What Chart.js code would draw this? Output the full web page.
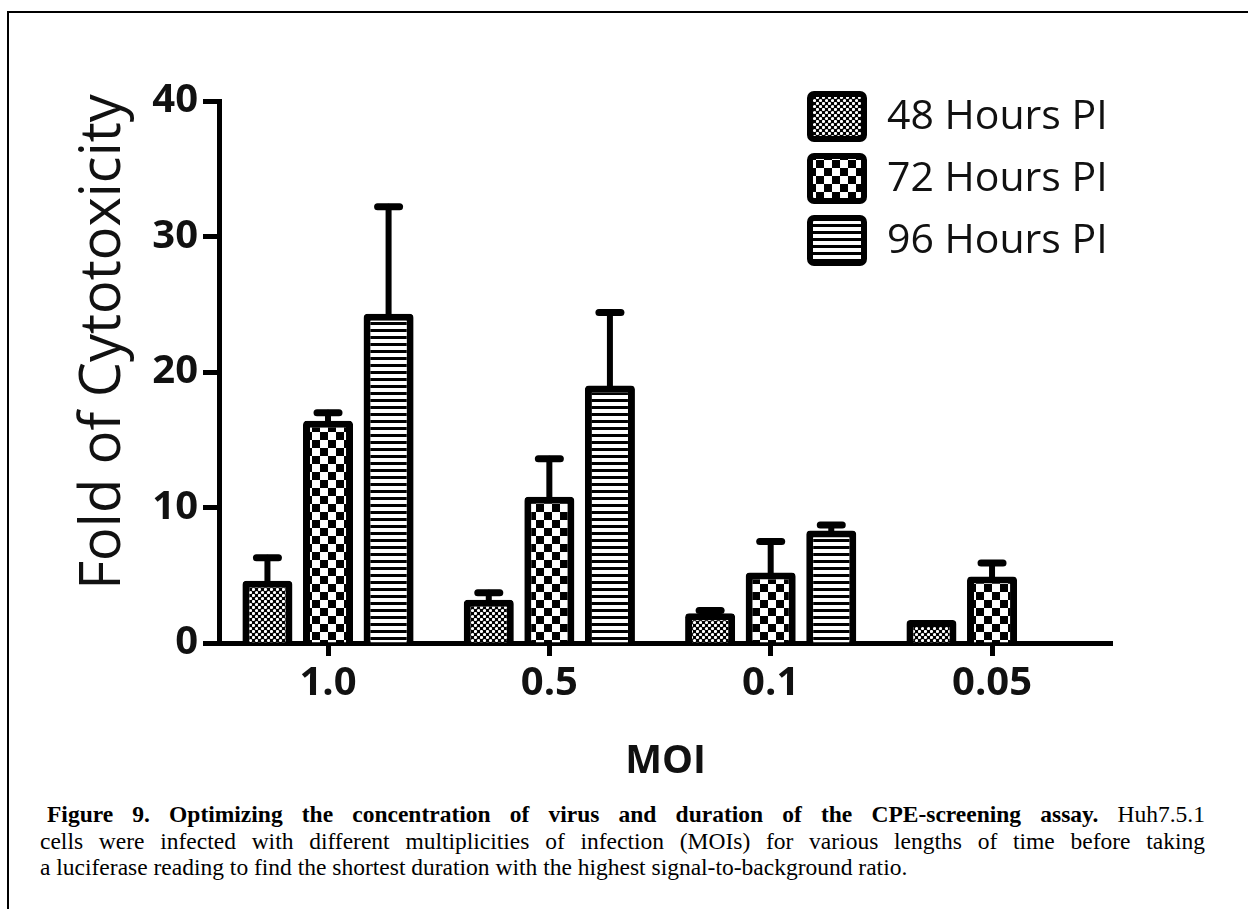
<!DOCTYPE html>
<html lang="en">
  <head>
    <meta charset="UTF-8" />
    <title>Figure 9</title>
    <script src="https://cdn.jsdelivr.net/npm/chart.js@4"></script>
    <style>
      body {
        margin: 0;
        width: 1248px;
        height: 909px;
        overflow: hidden;
        background: #fff;
        position: relative;
      }
      #moldura {
        position: absolute;
        left: 7px;
        top: 11px;
        width: 1300px;
        height: 1000px;
        border-top: 2px solid #000;
        border-left: 2px solid #000;
      }
      #grafico {
        position: absolute;
        left: 0;
        top: 0;
      }
      #legenda {
        position: absolute;
        left: 40px;
        top: 801px;
        width: 1165px;
        font-family: "Liberation Serif", serif;
        font-size: 23.5px;
        line-height: 26.5px;
        color: #000;
      }
      .linha {
        white-space: nowrap;
        text-align: justify;
        text-align-last: justify;
      }
      .ultima {
        white-space: nowrap;
      }
    </style>
  </head>
  <body>
    <div id="moldura"></div>
    <canvas id="grafico" width="1248" height="800"></canvas>
    <div id="legenda">
      <div class="linha" style="padding-left: 7px"><b>Figure 9. Optimizing the concentration of virus and duration of the CPE-screening assay.</b> Huh7.5.1</div>
      <div class="linha">cells were infected with different multiplicities of infection (MOIs) for various lengths of time before taking</div>
      <div class="ultima">a luciferase reading to find the shortest duration with the highest signal-to-background ratio.</div>
    </div>
  </body>
</html>

<script>
  const categorias = ["1.0", "0.5", "0.1", "0.05"];
  const series = ["48 Hours PI", "72 Hours PI", "96 Hours PI"];

  const valores48 = [4.6, 3.2, 2.2, 1.7];
  const valores72 = [16.4, 10.8, 5.2, 4.9];
  const valores96 = [24.3, 19.0, 8.3, null];

  // erro padrao (so a parte de cima aparece)
  const erro48 = [1.7, 0.5, 0.2, 0];
  const erro72 = [0.6, 2.8, 2.3, 1.0];
  const erro96 = [7.9, 5.4, 0.4, null];

  const ticksY = [0, 10, 20, 30, 40];
  const tituloY = "Fold of Cytotoxicity";
  const tituloX = "MOI";

  // padroes de preenchimento das barras
  function padraoPontos() {
    const c = document.createElement("canvas");
    c.width = 6;
    c.height = 6;
    const g = c.getContext("2d");
    g.fillStyle = "#000";
    g.fillRect(0, 0, 6, 6);
    g.fillStyle = "#fff";
    g.beginPath();
    g.arc(1.5, 1.5, 1.6, 0, Math.PI * 2);
    g.arc(4.5, 4.5, 1.6, 0, Math.PI * 2);
    g.fill();
    return g.createPattern(c, "repeat");
  }

  function padraoXadrez() {
    const c = document.createElement("canvas");
    c.width = 16;
    c.height = 16;
    const g = c.getContext("2d");
    g.fillStyle = "#fff";
    g.fillRect(0, 0, 16, 16);
    g.fillStyle = "#000";
    g.fillRect(0, 0, 8, 8);
    g.fillRect(8, 8, 8, 8);
    return g.createPattern(c, "repeat");
  }

  function padraoListras() {
    const c = document.createElement("canvas");
    c.width = 7;
    c.height = 7;
    const g = c.getContext("2d");
    g.fillStyle = "#fff";
    g.fillRect(0, 0, 7, 7);
    g.fillStyle = "#000";
    g.fillRect(0, 0, 7, 3);
    return g.createPattern(c, "repeat");
  }

  function pontos(valores) {
    return valores.map((v, i) => ({ x: i, y: v }));
  }

  const barrasErro = {
    id: "barrasErro",
    afterDatasetsDraw(chart) {
      const ctx = chart.ctx;
      const escalaY = chart.scales.y;
      chart.data.datasets.forEach((ds, d) => {
        const meta = chart.getDatasetMeta(d);
        meta.data.forEach((barra, i) => {
          const v = ds.data[i].y;
          const e = ds.erro[i];
          if (v == null || !e) return;
          const yBase = escalaY.getPixelForValue(v);
          const yTopo = escalaY.getPixelForValue(v + e);
          ctx.save();
          ctx.strokeStyle = "#000";
          ctx.lineCap = "round";
          ctx.lineWidth = 6;
          ctx.beginPath();
          ctx.moveTo(barra.x, yBase);
          ctx.lineTo(barra.x, yTopo);
          ctx.stroke();
          ctx.lineWidth = 7;
          ctx.beginPath();
          ctx.moveTo(barra.x - 11, yTopo);
          ctx.lineTo(barra.x + 11, yTopo);
          ctx.stroke();
          ctx.restore();
        });
      });
    },
  };

  const legendaETitulo = {
    id: "legendaETitulo",
    afterDraw(chart) {
      const ctx = chart.ctx;
      ctx.save();
      // titulo do eixo y
      ctx.translate(104, 342);
      ctx.rotate(-Math.PI / 2);
      ctx.font = "56px 'Open Sans'";
      ctx.fillStyle = "#111";
      ctx.textAlign = "center";
      ctx.textBaseline = "middle";
      ctx.fillText(tituloY, 0, 0);
      ctx.restore();

      // legenda
      ctx.save();
      chart.data.datasets.forEach((ds, d) => {
        const x = 810;
        const y = 94 + d * 62;
        ctx.beginPath();
        ctx.roundRect(x, y, 54, 45, 4);
        ctx.fillStyle = ds.backgroundColor;
        ctx.fill();
        ctx.lineWidth = 6;
        ctx.strokeStyle = "#000";
        ctx.stroke();
        ctx.fillStyle = "#111";
        ctx.font = "41px 'Open Sans'";
        ctx.textAlign = "left";
        ctx.textBaseline = "middle";
        ctx.fillText(ds.label, 887, y + 23);
      });
      ctx.restore();
    },
  };

  const ctx = document.getElementById("grafico");

  new Chart(ctx, {
    type: "bar",
    data: {
      datasets: [
        { label: series[0], data: pontos(valores48), erro: erro48, backgroundColor: padraoPontos() },
        { label: series[1], data: pontos(valores72), erro: erro72, backgroundColor: padraoXadrez() },
        { label: series[2], data: pontos(valores96), erro: erro96, backgroundColor: padraoListras() },
      ],
    },
    options: {
      responsive: false,
      animation: false,
      devicePixelRatio: 1,
      layout: {
        padding: { left: 0, right: 136, top: 101, bottom: 0 },
      },
      datasets: {
        bar: {
          borderColor: "#000",
          borderWidth: 7,
          borderRadius: { topLeft: 4, topRight: 4 },
          borderSkipped: "bottom",
          categoryPercentage: 0.821,
          barPercentage: 0.826,
        },
      },
      plugins: {
        legend: { display: false },
        tooltip: { enabled: false },
      },
      scales: {
        x: {
          type: "linear",
          offset: false,
          min: -0.4925,
          max: 3.542,
          afterBuildTicks: (escala) => {
            escala.ticks = categorias.map((c, i) => ({ value: i }));
          },
          afterFit: (escala) => {
            escala.height = 157;
          },
          border: { color: "#000", width: 5 },
          grid: {
            offset: false,
            drawOnChartArea: false,
            tickLength: 13,
            tickWidth: 5,
            tickColor: "#000",
          },
          ticks: {
            color: "#111",
            padding: 4,
            font: { family: "Open Sans", size: 40, weight: "bold" },
            callback: (valor) => categorias[valor],
          },
          title: {
            display: true,
            text: tituloX,
            color: "#111",
            padding: { top: 0, bottom: 15 },
            font: { family: "Open Sans", size: 39, weight: "bold" },
          },
        },
        y: {
          min: 0,
          max: 40,
          afterBuildTicks: (escala) => {
            escala.ticks = ticksY.map((t) => ({ value: t }));
          },
          afterFit: (escala) => {
            escala.width = 219;
          },
          border: { color: "#000", width: 5 },
          grid: {
            drawOnChartArea: false,
            tickLength: 16,
            tickWidth: 5,
            tickColor: "#000",
          },
          ticks: {
            color: "#111",
            padding: 5,
            font: { family: "Open Sans", size: 40, weight: "bold" },
          },
        },
      },
    },
    plugins: [barrasErro, legendaETitulo],
  });
</script>
